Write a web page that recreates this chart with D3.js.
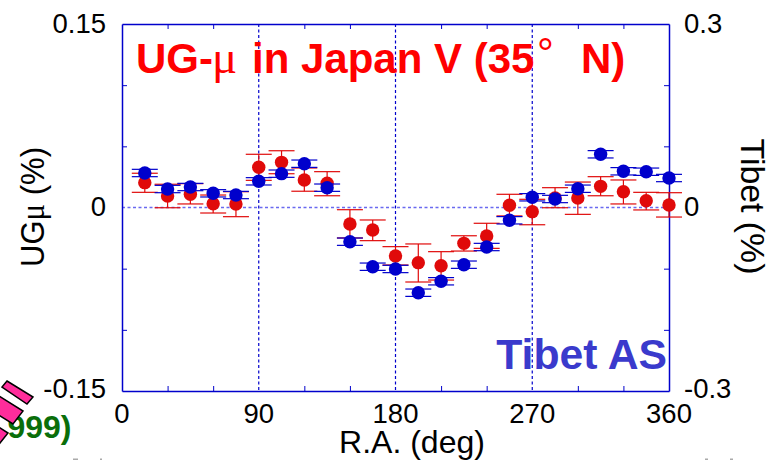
<!DOCTYPE html>
<html><head><meta charset="utf-8">
<script src="https://cdnjs.cloudflare.com/ajax/libs/d3/7.8.5/d3.min.js"></script>
<style>html,body{margin:0;padding:0;background:#fff;overflow:hidden}svg{display:block}text{font-family:"Liberation Sans",Arial,sans-serif}</style>
</head><body><div id="c"></div>
<script>
const ra=[15,30,45,60,75,90,105,120,135,150,165,180,195,210,225,240,255,270,285,300,315,330,345,360];
const ugmu=[.0203,.0094,.0108,.0031,.0029,.0329,.0369,.0225,.0198,-.0135,-.0184,-.0396,-.0451,-.0476,-.0293,-.0233,.0018,-.0034,.0078,.0078,.0173,.0129,.0056,.0020];
const ugmuHi=[.0280,.0190,.0195,.0102,.0129,.0435,.0464,.0323,.0293,-.0018,-.0102,-.0320,-.0298,-.0361,-.0231,-.0129,.0108,.0067,.0162,.0208,.0252,.0225,.0124,.0121];
const ugmuLo=[.0124,-.0002,.0029,-.0045,-.0075,.0222,.0276,.0133,.0096,-.0249,-.0271,-.0470,-.0609,-.0593,-.0356,-.0334,-.0069,-.0141,-.0002,-.0056,.0096,.0029,-.0020,-.0078];
const tibet=[.0564,.0302,.0335,.0232,.0204,.0428,.0553,.0716,.0324,-.0559,-.0968,-.1005,-.1393,-.1206,-.0935,-.0646,-.0209,.0167,.0139,.0307,.0870,.0592,.0585,.0482];
const tibetErr=[.006,.006,.006,.006,.006,.006,.006,.006,.006,.006,.006,.006,.006,.006,.006,.006,.006,.006,.006,.006,.006,.006,.006,.006];
const xTicks=[0,90,180,270,360];
const xMinor=[30,60,120,150,210,240,300,330];
const leftLabels=["-0.15","0","0.15"];
const leftVals=[-0.15,0,0.15];
const rightLabels=["-0.3","0","0.3"];
const rightVals=[-0.3,0,0.3];
const minorL=[-0.1,-0.05,0.05,0.1];
const blue="#0000cc",red="#e00a0a";
const L=122,R=669,T=24,B=391;
const svg=d3.select("#c").append("svg").attr("width",771).attr("height",460);
const x=d3.scaleLinear().domain([0,360]).range([L,R]);
const yL=d3.scaleLinear().domain([-0.15,0.15]).range([B,T]);
const yR=d3.scaleLinear().domain([-0.3,0.3]).range([B,T]);

// decoration: cropped overlay from the neighbouring slide content
svg.append("text").attr("x",71.5).attr("y",438).attr("text-anchor","end").attr("font-size",32).attr("font-weight","bold").attr("fill","#0a6e0a").text("999)");
const dec=svg.append("g").attr("stroke","#000").attr("stroke-width",1.5).attr("fill","#ff2d9b");
["7,381 33,397 27,404 2,387","-12,389 23,411 13,424 -22,402","-3,426 8,433 -4,448 -14,440"].forEach(p=>dec.append("polygon").attr("points",p));
// cropped grey fragments on the bottom edge
svg.append("g").attr("fill","#aaa").selectAll("rect").data([[73,5],[100,2],[705,3],[730,3]]).join("rect")
 .attr("x",d=>d[0]).attr("y",458.5).attr("width",d=>d[1]).attr("height",1.5);

// grid
svg.append("g").selectAll("line").data([90,180,270]).join("line")
 .attr("x1",d=>x(d)).attr("x2",d=>x(d)).attr("y1",T).attr("y2",B)
 .attr("stroke",blue).attr("stroke-width",1.2).attr("stroke-dasharray","3 2.5");
svg.append("line").attr("x1",L).attr("x2",R).attr("y1",yL(0)).attr("y2",yL(0))
 .attr("stroke","#6a6af0").attr("stroke-width",1.6).attr("stroke-dasharray","3 2.5");

// frame and ticks via axes
const axis=(gen,tx,vals)=>{const g=svg.append("g").attr("transform",tx).call(gen.tickValues(vals).tickSize(5).tickSizeOuter(0).tickFormat(""));
 g.selectAll("path").attr("stroke",blue).attr("stroke-width",1.5);g.selectAll("line").attr("stroke",blue).attr("stroke-width",1);return g;};
axis(d3.axisTop(x),`translate(0,${B})`,xMinor);
axis(d3.axisBottom(x),`translate(0,${T})`,xMinor);
axis(d3.axisRight(yL),`translate(${L},0)`,minorL);
axis(d3.axisLeft(yL),`translate(${R},0)`,minorL);

// data
const errs=(col,hi,lo)=>{
 const g=svg.append("g").attr("stroke",col).attr("stroke-width",1.2).attr("fill","none");
 ra.forEach((d,i)=>{
  g.append("line").attr("x1",x(d)).attr("x2",x(d)).attr("y1",hi[i]).attr("y2",lo[i]);
  [hi[i],lo[i]].forEach(v=>g.append("line").attr("x1",x(d)-13).attr("x2",x(d)+13).attr("y1",v).attr("y2",v));
 });
};
errs(red,ugmuHi.map(v=>yL(v)),ugmuLo.map(v=>yL(v)));
svg.append("g").selectAll("circle").data(ra).join("circle").attr("cx",d=>x(d)).attr("cy",(d,i)=>yL(ugmu[i])).attr("r",6.7).attr("fill",red);
errs(blue,tibet.map((v,i)=>yR(v+tibetErr[i])),tibet.map((v,i)=>yR(v-tibetErr[i])));
svg.append("g").selectAll("circle").data(ra).join("circle").attr("cx",d=>x(d)).attr("cy",(d,i)=>yR(tibet[i])).attr("r",6.7).attr("fill",blue);

// tick labels
const fs=27.5;
const lab=(t,xx,yy,a)=>svg.append("text").attr("x",xx).attr("y",yy).attr("text-anchor",a).attr("font-size",fs).attr("fill","#000").text(t);
xTicks.forEach(v=>lab(v,x(v),423,"middle"));
leftVals.forEach((v,i)=>lab(leftLabels[i],106,yL(v)+(i==0?7:i==1?8.5:9),"end"));
rightVals.forEach((v,i)=>lab(rightLabels[i],684,yR(v)+(i==0?7:i==1?8.5:9),"start"));
svg.append("text").attr("x",412).attr("y",453).attr("text-anchor","middle").attr("font-size",32).text("R.A. (deg)");
// y titles
const lt=svg.append("text").attr("transform","translate(44,207) rotate(-90) scale(1,1.1)").attr("text-anchor","middle").attr("font-size",31);
lt.append("tspan").text("UG");lt.append("tspan").style("font-family","Liberation Serif").text("\u03bc");lt.append("tspan").text(" (%)");
svg.append("text").attr("transform","translate(741,206.5) rotate(90)").attr("text-anchor","middle").attr("font-size",33.8).text("Tibet (%)");
// titles
const tt=svg.append("g").attr("fill","#ff0000").attr("font-size",42);
const tpart=(s,xx,yy,bold,fam,size)=>{const e=tt.append("text").attr("x",xx).attr("y",yy).attr("font-weight",bold?"bold":"normal").text(s);if(fam)e.style("font-family",fam);if(size)e.attr("font-size",size);};
tpart("UG-",136,73,true);
tpart("\u03bc",212,73,false,"Liberation Serif",47);
tpart("in Japan V (35",252,73,true);
tpart("\u00b0",537,68,false);
tpart("N)",581,73,true);
svg.append("text").attr("x",667).attr("y",369).attr("text-anchor","end").attr("font-size",42.7).attr("font-weight","bold").attr("fill","#3a3acc").text("Tibet AS");
</script></body></html>
